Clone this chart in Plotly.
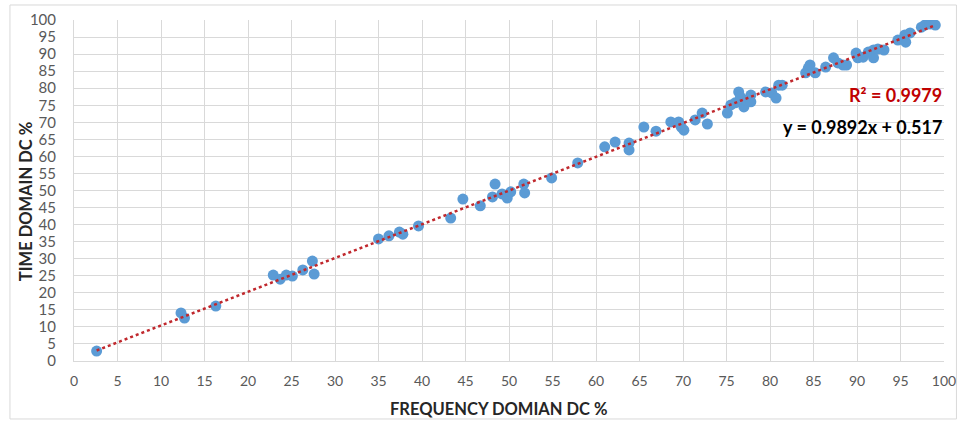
import plotly.graph_objects as go

# Duty-cycle measurements (%): frequency-domain estimate vs time-domain estimate
freq_dc = [2.6, 12.3, 12.7, 16.3, 22.9, 23.7, 24.4, 25.1, 26.3, 27.4, 27.6,
           35.0, 36.2, 37.4, 37.8, 39.6, 43.3, 44.7, 46.7, 48.1, 48.4, 49.2,
           49.8, 50.2, 51.7, 51.8, 54.9, 57.9, 61.0, 62.2, 63.8, 63.8, 65.5,
           66.9, 68.6, 69.5, 69.8, 70.1, 71.4, 72.2, 72.8, 75.1, 75.5, 76.0,
           76.4, 76.6, 77.0, 77.2, 77.8, 77.8, 79.5, 80.2, 80.7, 81.0, 81.4,
           84.1, 84.4, 84.6, 85.2, 86.4, 87.3, 87.8, 88.4, 88.8, 89.9, 90.1,
           90.7, 91.3, 91.9, 91.9, 92.4, 93.1, 94.7, 95.5, 95.6, 96.1, 97.4,
           97.8, 98.4, 99.0]
time_dc = [2.9, 14.1, 12.6, 16.1, 25.2, 24.0, 25.2, 24.9, 26.7, 29.3, 25.5,
           35.8, 36.7, 37.8, 37.2, 39.6, 41.9, 47.5, 45.5, 48.1, 51.9, 49.0,
           47.8, 49.6, 51.9, 49.3, 53.7, 58.1, 62.8, 64.2, 63.9, 61.9, 68.6,
           67.4, 70.1, 70.1, 68.6, 67.7, 70.7, 72.7, 69.5, 72.7, 75.1, 75.7,
           78.9, 77.4, 74.5, 76.5, 78.0, 76.0, 78.9, 78.6, 77.1, 80.9, 80.9,
           84.5, 85.9, 86.8, 84.5, 86.2, 88.9, 87.4, 86.8, 86.8, 90.3, 88.9,
           89.1, 90.6, 91.2, 88.9, 91.5, 91.2, 94.1, 95.6, 93.5, 96.2, 97.9,
           98.5, 98.8, 98.5]

# Linear trend line parameters
slope = 0.9892
intercept = 0.517
r_squared = 0.9979

tick_vals = list(range(0, 101, 5))

x_title = "FREQUENCY DOMIAN DC %"
y_title = "TIME DOMAIN DC %"

trend_x = [min(freq_dc), max(freq_dc)]
trend_y = [slope * v + intercept for v in trend_x]

font_main = "Lato, Carlito, Calibri, sans-serif"

fig = go.Figure()
fig.add_trace(go.Scatter(
    x=freq_dc, y=time_dc, mode="markers",
    marker=dict(color="#5B9BD5", size=11, line=dict(width=0)),
    showlegend=False,
))
fig.add_trace(go.Scatter(
    x=trend_x, y=trend_y, mode="lines",
    line=dict(color="#C0282D", width=2.5, dash="dot"),
    showlegend=False,
))

fig.add_annotation(
    x=100, y=78, xref="x", yref="y", xanchor="right", yanchor="middle",
    text=f"<b>R² = {r_squared}</b>", showarrow=False,
    font=dict(family=font_main, size=18, color="#C00000"),
)
fig.add_annotation(
    x=100, y=68.6, xref="x", yref="y", xanchor="right", yanchor="middle",
    text=f"<b>y = {slope}x + {intercept}</b>", showarrow=False,
    font=dict(family=font_main, size=18, color="#000000"),
)

# Axis titles placed in paper coordinates
fig.add_annotation(
    x=0.4885, y=-0.141, xref="paper", yref="paper",
    xanchor="center", yanchor="middle", showarrow=False,
    text=f"<b>{x_title}</b>",
    font=dict(family=font_main, size=16.5, color="#262626"),
)
fig.add_annotation(
    x=-0.055, y=0.466, xref="paper", yref="paper",
    xanchor="center", yanchor="middle", showarrow=False, textangle=-90,
    text=f"<b>{y_title}</b>",
    font=dict(family=font_main, size=16.5, color="#262626"),
)

# Chart-area frame
fig.add_shape(
    type="rect", xref="paper", yref="paper",
    x0=-0.0736, x1=1.0143, y0=-0.17, y1=1.044,
    line=dict(color="#D9D9D9", width=1), layer="below",
)

axis_common = dict(
    range=[0, 100], tickvals=tick_vals, showgrid=True,
    gridcolor="#D9D9D9", gridwidth=1, zeroline=False,
    ticks="", fixedrange=True, automargin=False,
    showline=True, linecolor="#D9D9D9", linewidth=1,
    ticklabeloverflow="allow",
)

fig.update_layout(
    width=959, height=422,
    margin=dict(l=74, r=15, t=20, b=61),
    paper_bgcolor="white", plot_bgcolor="white",
    xaxis=dict(**axis_common, ticklabelstandoff=7,
               tickfont=dict(family=font_main, size=14, color="#595959")),
    yaxis=dict(**axis_common, ticklabelstandoff=14,
               tickfont=dict(family=font_main, size=15, color="#595959")),
)

fig.write_html("out.html")
